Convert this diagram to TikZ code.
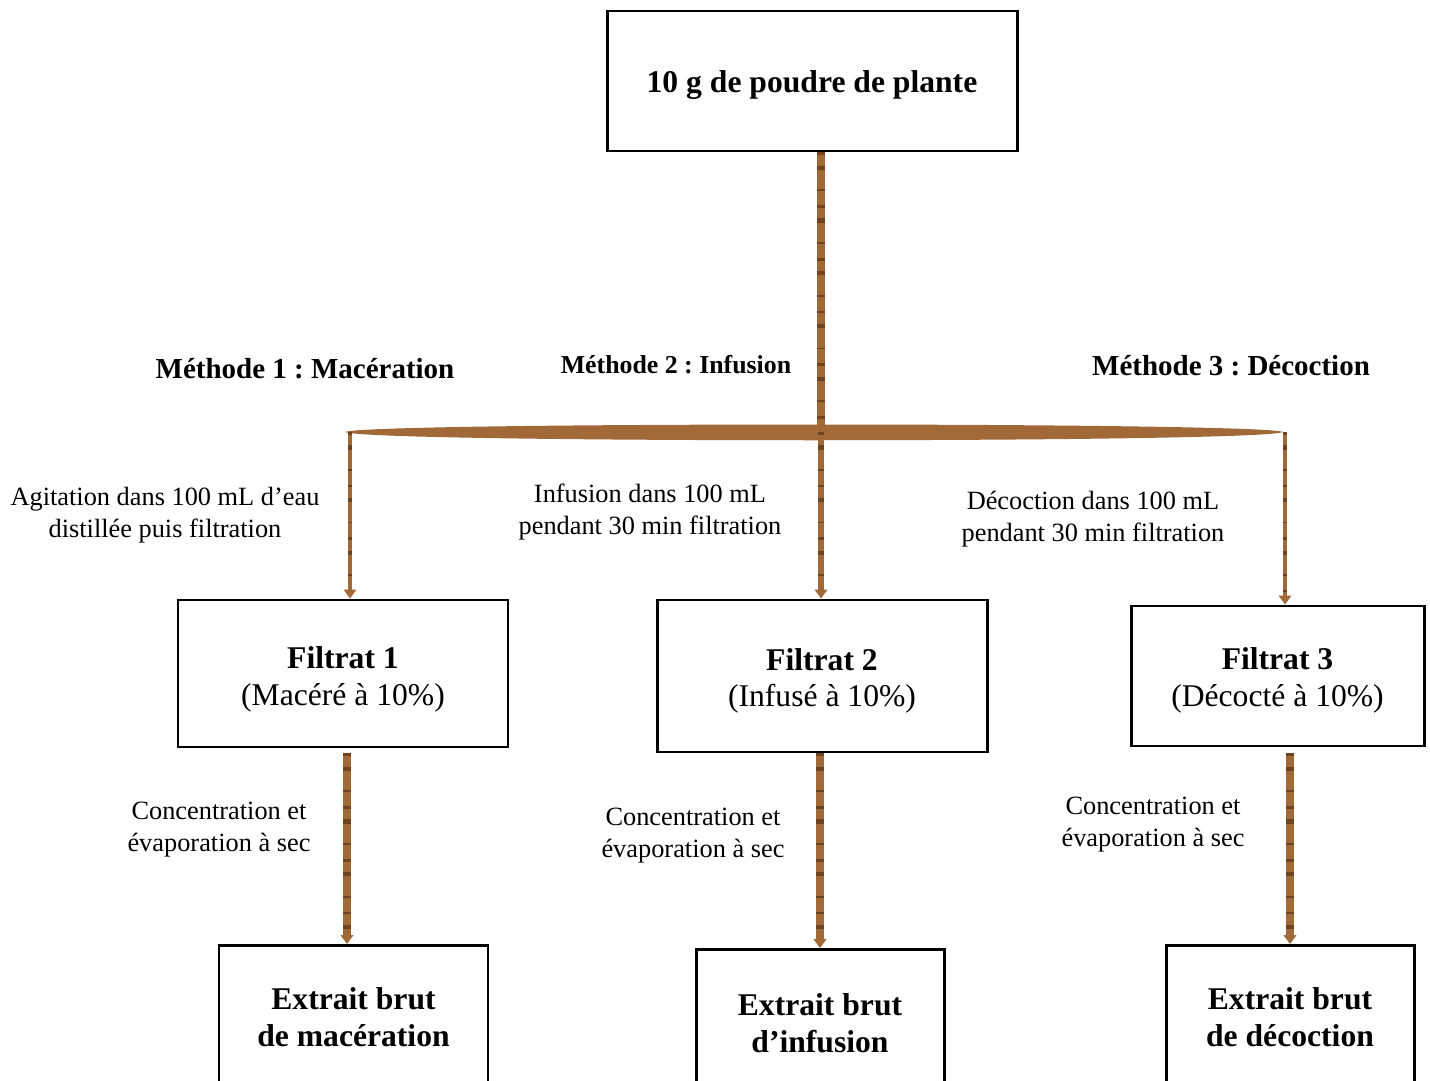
\documentclass[tikz,border=0pt]{standalone}
\usepackage{fontspec}
\setmainfont{Liberation Serif}
\usetikzlibrary{arrows.meta}
\definecolor{woodbrown}{RGB}{160,105,55}
\definecolor{grain}{RGB}{110,68,32}
\frenchspacing

\tikzset{
  box/.style={draw, line width=1.7pt, align=center, inner sep=0pt},
  woodline/.style={draw=woodbrown, line width=#1,
    postaction={draw=grain, line width=#1, dash pattern=on 1.5pt off 6pt on 2.5pt off 11pt on 1pt off 8pt, -, shorten >=7pt}},
  lbl/.style={align=center, font=\fontsize{15}{18.2}\selectfont},
  mth/.style={font=\bfseries\fontsize{16.5}{20}\selectfont},
}
\newcommand\lift[1]{\rule{0pt}{#1}}

\begin{document}
\begin{tikzpicture}[x=0.02cm, y=-0.02cm, >={Triangle[length=5pt,width=7pt]}]
    \clip (0,0) rectangle (1430,1081);
    % Starting material
    \node[box, minimum width=410*0.02cm, minimum height=140*0.02cm,
          font=\bfseries\fontsize{18}{21}\selectfont] (plante) at (812,81) {\lift{17pt}10 g de poudre de plante};
    % Filtrates
    \node[box, minimum width=330*0.02cm, minimum height=147*0.02cm,
          font=\fontsize{18}{21}\selectfont] (f1) at (343,673.5) {\lift{19pt}\textbf{Filtrat 1}\\(Macéré à 10\%)};
    \node[box, minimum width=330*0.02cm, minimum height=152*0.02cm,
          font=\fontsize{18}{21}\selectfont] (f2) at (822,676) {\lift{18pt}\textbf{Filtrat 2}\\(Infusé à 10\%)};
    \node[box, minimum width=293*0.02cm, minimum height=140*0.02cm,
          font=\fontsize{18}{21}\selectfont] (f3) at (1277.5,676) {\lift{17pt}\textbf{Filtrat 3}\\(Décocté à 10\%)};
    % Crude extracts (cut by the page edge)
    \node[box, anchor=north, minimum width=269*0.02cm, minimum height=144*0.02cm,
          font=\bfseries\fontsize{18}{21}\selectfont] (ex1) at (353.5,944) {Extrait brut\\de macération};
    \node[box, anchor=north, minimum width=248*0.02cm, minimum height=147*0.02cm,
          font=\bfseries\fontsize{18}{21}\selectfont] (ex2) at (820,948) {Extrait brut\\d’infusion};
    \node[box, anchor=north, minimum width=248*0.02cm, minimum height=144*0.02cm,
          font=\bfseries\fontsize{18}{21}\selectfont] (ex3) at (1290,944) {Extrait brut\\de décoction};
    % Branching bar
    \coordinate (barL) at (345,432);
    \coordinate (barR) at (1283,432);
    \coordinate (split) at (821,432);
    \coordinate (dropL) at (350,432);
    \coordinate (dropR) at (1285,432);
    \fill[woodbrown] (barL) .. controls (365,422) and (1262,422) .. (barR)
        .. controls (1262,443) and (365,443) .. (barL);
    \draw[woodline=4.5pt] (split |- plante.south) -- (split);
    \draw[woodline=2.8pt, ->] (dropL) -- (dropL |- f1.north);
    \draw[woodline=3.6pt, ->] (split) -- (split |- f2.north);
    \draw[woodline=2.8pt, ->] (dropR) -- (dropR |- f3.north);
    \draw[woodline=4.2pt, ->] ([xshift=4*0.02cm]f1.south) ++(0,5) -- ([xshift=4*0.02cm]f1.south |- ex1.north);
    \draw[woodline=4.2pt, ->] (ex2.north |- f2.south) -- (ex2.north);
    \draw[woodline=4.2pt, ->] (ex3.north |- f3.south) ++(0,6) -- (ex3.north);
    % Method titles
    \node[mth] (m1) at (305,369) {Méthode 1 : Macération};
    \node[mth, font=\bfseries\fontsize{14.7}{18}\selectfont] (m2) at (676,365) {Méthode 2 : Infusion};
    \node[mth] (m3) at (1231,366) {Méthode 3 : Décoction};
    % Step labels
    \node[lbl] (agit) at (165,515) {Agitation dans 100 mL d’eau\\distillée puis filtration};
    \node[lbl] (inf) at (650,512) {Infusion dans 100 mL\\pendant 30 min filtration};
    \node[lbl] (dec) at (1093,519) {Décoction dans 100 mL\\pendant 30 min filtration};
    \node[lbl] (c1) at (219,830) {Concentration et\\évaporation à sec};
    \node[lbl] (c2) at (693,836) {Concentration et\\évaporation à sec};
    \node[lbl] (c3) at (1153,825) {Concentration et\\évaporation à sec};
\end{tikzpicture}
\end{document}
